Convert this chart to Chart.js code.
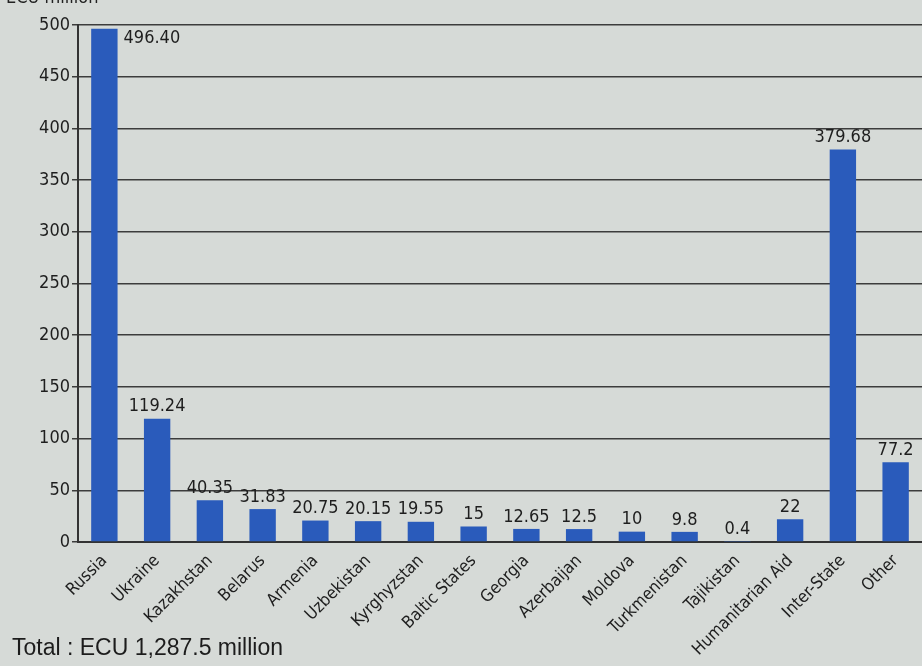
<!DOCTYPE html>
<html>
<head>
<meta charset="utf-8">
<script src="https://cdn.jsdelivr.net/npm/chart.js@4.4.1/dist/chart.umd.min.js"></script>
<style>
  html, body { margin: 0; padding: 0; background: #d6dad7; overflow: hidden; }
  #wrap { position: relative; width: 922px; height: 666px; }
  #unit { position: absolute; left: 6px; top: -14px; font: 18px "DejaVu Sans Condensed", sans-serif; color: #222; }
  #total { position: absolute; left: 12px; top: 634px; font: 23px "Liberation Sans", sans-serif; color: #1c1c1c; }
</style>
</head>
<body>
<div id="wrap">
  <canvas id="bar" width="922" height="666"></canvas>
  <div id="unit">ECU million</div>
  <div id="total">Total : ECU 1,287.5 million</div>
</div>
<script>
const categories = ['Russia', 'Ukraine', 'Kazakhstan', 'Belarus', 'Armenia', 'Uzbekistan', 'Kyrghyzstan',
    'Baltic States', 'Georgia', 'Azerbaijan', 'Moldova', 'Turkmenistan', 'Tajikistan',
    'Humanitarian Aid', 'Inter-State', 'Other'];
const amounts = [496.40, 119.24, 40.35, 31.83, 20.75, 20.15, 19.55, 15, 12.65, 12.5, 10, 9.8, 0.4, 22, 379.68, 77.2];
const amountLabels = ['496.40', '119.24', '40.35', '31.83', '20.75', '20.15', '19.55', '15', '12.65', '12.5',
    '10', '9.8', '0.4', '22', '379.68', '77.2'];
const yTicks = [0, 50, 100, 150, 200, 250, 300, 350, 400, 450, 500];

const narrow = '"DejaVu Sans Condensed", "Liberation Sans Narrow", sans-serif';

// value labels above each bar (Russia's sits to the right of the bar)
const valueLabels = {
    id: 'valueLabels',
    afterDatasetsDraw(chart) {
        const ctx = chart.ctx;
        const meta = chart.getDatasetMeta(0);
        ctx.save();
        ctx.font = '18px ' + narrow;
        ctx.fillStyle = '#1e1e1e';
        meta.data.forEach((bar, i) => {
            if (i === 0) {
                ctx.textAlign = 'left';
                ctx.textBaseline = 'middle';
                ctx.fillText(amountLabels[i], bar.x + bar.width / 2 + 6, bar.y + 10);
            } else {
                ctx.textAlign = 'center';
                ctx.textBaseline = 'bottom';
                ctx.fillText(amountLabels[i], bar.x, bar.y - 3);
            }
        });
        ctx.restore();
    }
};

const ctx = document.getElementById('bar').getContext('2d');
new Chart(ctx, {
    type: 'bar',
    data: {
        labels: categories,
        datasets: [{
            data: amounts,
            backgroundColor: '#2a5bbb',
            barPercentage: 0.5,
            categoryPercentage: 1
        }]
    },
    options: {
        responsive: false,
        animation: false,
        layout: { padding: { top: 25, right: 0, left: 0, bottom: 0 } },
        plugins: { legend: { display: false }, tooltip: { enabled: false } },
        scales: {
            x: {
                grid: { display: false },
                border: { color: '#333', width: 2 },
                ticks: {
                    minRotation: 45, maxRotation: 45, autoSkip: false,
                    color: '#1e1e1e', font: { size: 17, family: narrow }, padding: 1
                },
                afterFit(scale) { scale.height = 124; }
            },
            y: {
                min: 0, max: 500,
                afterBuildTicks(scale) { scale.ticks = yTicks.map(v => ({ value: v })); },
                grid: { color: '#3c3c3c', lineWidth: 1.5, tickLength: 6, drawTicks: true },
                border: { color: '#333', width: 2 },
                ticks: { color: '#1e1e1e', font: { size: 18, family: narrow }, padding: 2 },
                afterFit(scale) { scale.width = 78; }
            }
        }
    },
    plugins: [valueLabels]
});
</script>
</body>
</html>
